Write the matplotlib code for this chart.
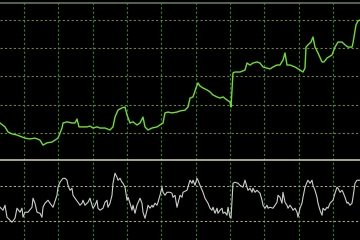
import matplotlib
matplotlib.use("Agg")
import matplotlib.pyplot as plt
import numpy as np

# Price series (top panel) : bar index and price level
price_bars = [0, 5, 8, 12, 17, 22, 25, 30, 35, 40, 43, 47, 52, 55, 58, 60, 62, 63, 67, 72,
              75, 77, 79, 83, 87, 90, 93, 97, 100, 105, 110, 113, 115, 118, 122, 125, 127, 130,
              133, 137, 140, 143, 145, 148, 152, 157, 160, 163, 165, 168, 172, 177, 180, 185,
              188, 190, 193, 196, 198, 200, 203, 207, 210, 213, 217, 220, 223, 227, 230, 231,
              233, 235, 240, 245, 247, 250, 253, 257, 260, 263, 267, 270, 273, 277, 280, 283,
              285, 287, 290, 295, 300, 303, 305, 306, 308, 311, 313, 315, 318, 322, 324, 327,
              332, 335, 338, 342, 345, 348, 352, 353, 356, 358, 360]
price_vals = [103.4, 102.0, 100.2, 99.5, 99.1, 98.4, 98.0, 97.7, 98.0, 97.3, 95.5, 96.3, 96.6,
              97.3, 98.0, 99.8, 101.6, 103.4, 103.8, 103.4, 103.4, 104.8, 102.0, 102.0, 102.0,
              102.3, 101.6, 102.0, 101.6, 101.6, 100.9, 102.0, 105.5, 108.0, 108.8, 109.1, 106.3,
              103.4, 103.8, 102.7, 103.4, 105.5, 102.0, 100.9, 101.6, 102.0, 102.7, 103.4, 107.0,
              107.3, 107.0, 107.3, 107.7, 108.0, 109.1, 112.3, 112.7, 115.9, 117.7, 116.6, 115.9,
              115.2, 114.5, 113.4, 112.7, 112.3, 112.7, 111.6, 110.9, 109.1, 121.3, 121.6, 121.6,
              122.3, 124.8, 124.1, 124.8, 125.2, 124.8, 123.4, 123.0, 122.7, 123.4, 124.1, 124.1,
              125.9, 128.4, 124.1, 124.1, 123.4, 122.3, 121.6, 123.0, 130.5, 131.3, 132.3, 134.1,
              130.5, 128.4, 125.2, 125.2, 126.6, 127.7, 130.5, 132.3, 132.3, 131.3, 130.5, 130.5,
              132.0, 138.4, 139.8, 140.2]

# Oscillator (bottom panel, RSI-like)
osc_bars = [0, 3, 5, 7, 10, 12, 15, 17, 20, 22, 23, 25, 28, 32, 33, 35, 37, 40, 42, 43, 45, 48,
            50, 53, 57, 58, 60, 63, 65, 67, 68, 70, 72, 73, 75, 78, 80, 82, 83, 85, 88, 90, 92,
            93, 95, 97, 98, 100, 103, 105, 107, 108, 110, 112, 113, 115, 117, 118, 120, 122, 123,
            125, 127, 128, 130, 132, 133, 135, 137, 140, 142, 143, 145, 147, 148, 150, 152, 153,
            155, 157, 158, 160, 162, 163, 165, 167, 170, 172, 173, 175, 177, 180, 182, 183, 187,
            190, 192, 193, 195, 197, 198, 200, 203, 205, 208, 210, 212, 213, 215, 217, 218, 220,
            222, 223, 225, 227, 228, 230, 231, 233, 235, 238, 240, 243, 245, 247, 248, 250, 252,
            253, 255, 257, 260, 262, 263, 265, 267, 268, 270, 273, 277, 278, 280, 282, 283, 285,
            287, 288, 290, 292, 293, 295, 297, 298, 300, 302, 303, 305, 307, 308, 310, 312, 313,
            315, 317, 318, 320, 322, 323, 325, 327, 328, 330, 333, 335, 337, 338, 340, 342, 343,
            345, 347, 348, 350, 352, 353, 355, 357, 360]
osc_vals = [46.0, 42.6, 48.3, 34.6, 31.1, 28.9, 33.4, 44.9, 40.3, 44.9, 34.6, 40.3, 40.3, 46.0,
            56.3, 50.6, 40.3, 39.1, 34.6, 46.0, 50.6, 54.0, 50.6, 46.0, 59.7, 68.9, 74.6, 79.1,
            79.1, 76.9, 71.1, 65.4, 67.7, 59.7, 56.3, 51.7, 48.3, 50.6, 54.0, 48.3, 51.7, 56.3,
            48.3, 44.9, 48.3, 54.0, 44.9, 42.6, 44.9, 51.7, 54.0, 46.0, 50.6, 59.7, 73.4, 84.9,
            80.3, 76.9, 79.1, 74.6, 73.4, 68.9, 54.0, 57.4, 50.6, 42.6, 48.3, 39.1, 48.3, 56.3,
            50.6, 40.3, 33.4, 42.6, 48.3, 44.9, 48.3, 46.0, 50.6, 48.3, 51.7, 59.7, 68.9, 63.1,
            59.7, 63.1, 63.1, 62.0, 57.4, 59.7, 46.0, 59.7, 57.4, 63.1, 65.4, 76.9, 73.4, 76.9,
            71.1, 79.1, 76.9, 71.1, 63.1, 56.3, 50.6, 44.9, 42.6, 46.0, 39.1, 44.9, 39.1, 42.6,
            44.9, 39.1, 40.3, 36.9, 46.0, 34.6, 33.4, 73.4, 74.6, 73.4, 71.1, 68.9, 76.9, 68.9,
            65.4, 67.7, 63.1, 67.7, 63.1, 65.4, 62.0, 54.0, 48.3, 44.9, 48.3, 44.9, 46.0, 44.9,
            51.7, 59.7, 57.4, 50.6, 63.1, 51.7, 48.3, 44.9, 48.3, 44.9, 42.6, 44.9, 40.3, 34.6,
            44.9, 50.6, 57.4, 68.9, 74.6, 76.9, 73.4, 76.9, 71.1, 65.4, 57.4, 50.6, 42.6, 36.9,
            44.9, 42.6, 46.0, 44.9, 50.6, 54.0, 62.0, 68.9, 67.7, 63.1, 65.4, 63.1, 57.4, 50.6,
            51.7, 48.3, 50.6, 57.4, 73.4, 76.9, 76.9]

price_grid = [100, 110, 120, 130, 140]
osc_levels = [30, 70]

BG = "black"
fig = plt.figure(figsize=(3.6, 2.4), dpi=100, facecolor=BG)
ax1 = fig.add_axes([0, 80 / 240, 1, 160 / 240])
ax2 = fig.add_axes([0, 0, 1, 80 / 240])

vgrid = np.arange(24, 360, 34.35)

for ax in (ax1, ax2):
    ax.set_facecolor(BG)
    ax.set_xlim(0, 360)
    for s in ax.spines.values():
        s.set_visible(False)
    ax.set_xticks([])
    ax.set_yticks([])
    for xv in vgrid:
        ax.axvline(xv, color="#2a8a12", lw=0.8, dashes=(2, 2), zorder=1)

ax1.set_ylim(90.18, 147.32)
for yv in price_grid:
    ax1.axhline(yv, color="#6e861a", lw=0.8, dashes=(2, 2), zorder=1)
ax1.axhline(146.2, color="#66765a", lw=1.2, zorder=1)
ax1.plot(price_bars, price_vals, color="#6fe02a", lw=1.0, zorder=3)

ax2.set_ylim(8.57, 100)
for yv in osc_levels:
    ax2.axhline(yv, color="#a8a866", lw=0.8, dashes=(2, 2), zorder=1)
ax2.axhline(99.6, color="#d6d6aa", lw=1.1, zorder=2, clip_on=False)
ax2.plot(osc_bars, osc_vals, color="#c8d0c8", lw=0.8, zorder=3)

fig.savefig("out.png", dpi=100, facecolor=BG)
